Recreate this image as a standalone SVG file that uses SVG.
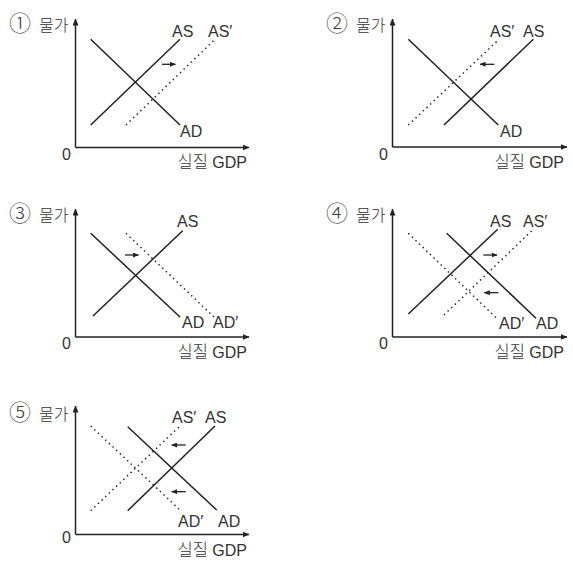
<svg xmlns="http://www.w3.org/2000/svg" width="573" height="562" viewBox="0 0 573 562">
<defs>
<marker id="ah" viewBox="0 0 7 6" refX="6.5" refY="3" markerWidth="7" markerHeight="6" markerUnits="userSpaceOnUse" orient="auto">
<path d="M0,0 L7,3 L0,6 z" fill="#222"/>
</marker>
<marker id="sh" viewBox="0 0 6 5" refX="5.5" refY="2.5" markerWidth="6" markerHeight="5" markerUnits="userSpaceOnUse" orient="auto">
<path d="M0,0 L6,2.5 L0,5 z" fill="#222"/>
</marker>
</defs>
<style>
.ax{stroke:#222;stroke-width:1.5;fill:none;marker-end:url(#ah)}
.cv{stroke:#222;stroke-width:1.5;fill:none}
.dt{stroke:#222;stroke-width:1.5;fill:none;stroke-dasharray:1.4 3.6}
.sf{stroke:#222;stroke-width:1.3;fill:none;marker-end:url(#sh)}
text{font-family:"Liberation Sans","Noto Sans CJK KR",sans-serif;fill:#333}
.lb{font-size:16px}
.kr{font-size:16px;font-family:"Noto Sans CJK KR","Liberation Sans",sans-serif;font-weight:300}
.cn{font-size:22px;font-family:"Noto Sans CJK KR","Liberation Sans",sans-serif;font-weight:300;fill:#444}
.gd{font-size:16px;text-anchor:end}
.k{font-size:16.5px;font-family:"Noto Sans CJK KR",sans-serif;font-weight:300}
</style>

<g id="panel1">
<text class="cn" x="9" y="31">①</text>
<text class="kr" x="39" y="31">물가</text>
<text class="lb" x="62" y="160">0</text>
<text class="gd" x="247" y="168"><tspan class="k">실질</tspan> GDP</text>
<text class="lb" x="172" y="37">AS</text>
<text class="lb" x="208" y="37">AS′</text>
<text class="lb" x="180" y="137">AD</text>
</g>
<g id="panel2">
<text class="cn" x="326" y="31">②</text>
<text class="kr" x="356" y="31">물가</text>
<text class="lb" x="379" y="160">0</text>
<text class="gd" x="564" y="168"><tspan class="k">실질</tspan> GDP</text>
<text class="lb" x="490" y="37">AS′</text>
<text class="lb" x="523" y="37">AS</text>
<text class="lb" x="500" y="137">AD</text>
</g>
<g id="panel3">
<text class="cn" x="9" y="221">③</text>
<text class="kr" x="39" y="221">물가</text>
<text class="lb" x="62" y="349">0</text>
<text class="gd" x="247" y="358"><tspan class="k">실질</tspan> GDP</text>
<text class="lb" x="177" y="227">AS</text>
<text class="lb" x="182" y="328">AD</text>
<text class="lb" x="213" y="328">AD′</text>
</g>
<g id="panel4">
<text class="cn" x="326" y="221">④</text>
<text class="kr" x="356" y="221">물가</text>
<text class="lb" x="379" y="349">0</text>
<text class="gd" x="564" y="358"><tspan class="k">실질</tspan> GDP</text>
<text class="lb" x="490" y="227">AS</text>
<text class="lb" x="523" y="227">AS′</text>
<text class="lb" x="499" y="329">AD′</text>
<text class="lb" x="536" y="329">AD</text>
</g>
<g id="panel5">
<text class="cn" x="9" y="420">⑤</text>
<text class="kr" x="39" y="420">물가</text>
<text class="lb" x="62" y="543">0</text>
<text class="gd" x="247" y="556"><tspan class="k">실질</tspan> GDP</text>
<text class="lb" x="172" y="423">AS′</text>
<text class="lb" x="205" y="423">AS</text>
<text class="lb" x="178" y="527">AD′</text>
<text class="lb" x="218" y="527">AD</text>
</g>

<g id="connectors">
<!-- panel 1 -->
<line class="ax" x1="75.5" y1="147.5" x2="75.5" y2="19"/>
<line class="ax" x1="75.5" y1="147.5" x2="249" y2="147.5"/>
<line class="cv" x1="90.7" y1="39.3" x2="180" y2="125"/>
<line class="cv" x1="90.7" y1="125" x2="180" y2="39.3"/>
<line class="dt" x1="126" y1="125" x2="215" y2="39.3"/>
<line class="sf" x1="162" y1="64.3" x2="175.5" y2="64.3"/>
<!-- panel 2 -->
<line class="ax" x1="392.5" y1="147" x2="392.5" y2="19"/>
<line class="ax" x1="392.5" y1="147" x2="567" y2="147"/>
<line class="cv" x1="408.3" y1="39.3" x2="498.3" y2="125"/>
<line class="cv" x1="444" y1="125" x2="533.3" y2="39.3"/>
<line class="dt" x1="408.3" y1="125" x2="499" y2="39.3"/>
<line class="sf" x1="494.3" y1="64.3" x2="480" y2="64.3"/>
<!-- panel 3 -->
<line class="ax" x1="75.5" y1="337" x2="75.5" y2="209"/>
<line class="ax" x1="75.5" y1="337" x2="249" y2="337"/>
<line class="cv" x1="90.7" y1="233.3" x2="180" y2="317"/>
<line class="cv" x1="93" y1="316" x2="182.7" y2="230.7"/>
<line class="dt" x1="126" y1="233.3" x2="215" y2="318"/>
<line class="sf" x1="125" y1="255" x2="138.5" y2="255"/>
<!-- panel 4 -->
<line class="ax" x1="392.5" y1="337" x2="392.5" y2="209"/>
<line class="ax" x1="392.5" y1="337" x2="567" y2="337"/>
<line class="cv" x1="408.3" y1="314" x2="497.7" y2="229.3"/>
<line class="cv" x1="446.7" y1="233.3" x2="536" y2="318.3"/>
<line class="dt" x1="444" y1="315" x2="533.3" y2="229.3"/>
<line class="dt" x1="408.3" y1="233.3" x2="496.7" y2="318.3"/>
<line class="sf" x1="483.3" y1="255" x2="497" y2="255"/>
<line class="sf" x1="498.3" y1="292.7" x2="484.3" y2="292.7"/>
<!-- panel 5 -->
<line class="ax" x1="75.5" y1="534.5" x2="75.5" y2="406"/>
<line class="ax" x1="75.5" y1="534.5" x2="249" y2="534.5"/>
<line class="cv" x1="127.7" y1="426.7" x2="216.7" y2="510"/>
<line class="cv" x1="127.7" y1="510.7" x2="215" y2="426"/>
<line class="dt" x1="90.7" y1="426" x2="180" y2="510"/>
<line class="dt" x1="90.7" y1="510.7" x2="180" y2="426"/>
<line class="sf" x1="185.7" y1="445" x2="171.7" y2="445"/>
<line class="sf" x1="185.7" y1="491.7" x2="171.7" y2="491.7"/>
</g>
</svg>
